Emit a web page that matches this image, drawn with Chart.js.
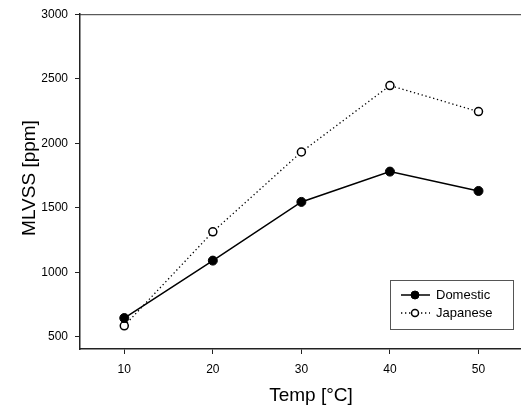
<!DOCTYPE html>
<html>
<head>
<meta charset="utf-8">
<title>MLVSS vs Temp</title>
<script src="https://cdn.jsdelivr.net/npm/chart.js@4"></script>
<style>
    body { margin: 0; background: #fff; }
    #wrap { width: 521px; height: 410px; position: relative; }
</style>
</head>
<body>
<div id="wrap"><canvas id="mlvssChart"></canvas></div>
<script>
// data
const temps = [10, 20, 30, 40, 50];
const domestic = [645, 1090, 1545, 1780, 1630];
const japanese = [585, 1313, 1932, 2447, 2245];
const xTicks = [10, 20, 30, 40, 50];
const yTicks = [500, 1000, 1500, 2000, 2500, 3000];

const FONT = "'Liberation Sans', Arial, Helvetica, sans-serif";

// axis titles, top frame line and the boxed legend
const extras = {
    id: 'extras',
    afterDraw(chart) {
        const ctx = chart.ctx;
        const a = chart.chartArea;
        ctx.save();

        // top frame line
        ctx.strokeStyle = '#333';
        ctx.lineWidth = 1;
        ctx.beginPath();
        ctx.moveTo(a.left, a.top + 0.5);
        ctx.lineTo(a.right, a.top + 0.5);
        ctx.stroke();

        // titles
        ctx.fillStyle = '#000';
        ctx.font = '19px ' + FONT;
        ctx.textAlign = 'center';
        ctx.textBaseline = 'middle';
        ctx.fillText('Temp [°C]', 311, 396);
        ctx.translate(30, 178);
        ctx.rotate(-Math.PI / 2);
        ctx.fillText('MLVSS [ppm]', 0, 0);
        ctx.restore();

        // legend
        ctx.save();
        ctx.strokeStyle = '#555';
        ctx.lineWidth = 1;
        ctx.strokeRect(390.5, 280.5, 123, 49);
        const rows = [
            { label: 'Domestic', y: 295, ds: chart.data.datasets[0] },
            { label: 'Japanese', y: 313, ds: chart.data.datasets[1] }
        ];
        rows.forEach(function(r) {
            ctx.strokeStyle = '#000';
            ctx.lineWidth = r.ds.borderWidth;
            ctx.setLineDash(r.ds.borderDash || []);
            ctx.beginPath();
            ctx.moveTo(401, r.y);
            ctx.lineTo(430, r.y);
            ctx.stroke();
            ctx.setLineDash([]);
            ctx.beginPath();
            ctx.arc(415, r.y, r.ds.pointRadius - 0.5, 0, Math.PI * 2);
            ctx.fillStyle = r.ds.pointBackgroundColor;
            ctx.fill();
            ctx.lineWidth = r.ds.pointBorderWidth;
            ctx.stroke();
            ctx.fillStyle = '#000';
            ctx.font = '13px ' + FONT;
            ctx.textAlign = 'left';
            ctx.textBaseline = 'middle';
            ctx.fillText(r.label, 436, r.y + 0.5);
        });
        ctx.restore();
    }
};

const ctx = document.getElementById('mlvssChart').getContext('2d');
const mlvssChart = new Chart(ctx, {
    type: 'line',
    data: {
        datasets: [{
            label: 'Domestic',
            data: temps.map((t, i) => ({ x: t, y: domestic[i] })),
            borderColor: '#000',
            borderWidth: 1.5,
            pointRadius: 4.5,
            pointBackgroundColor: '#000',
            pointBorderColor: '#000',
            pointBorderWidth: 1,
            tension: 0
        }, {
            label: 'Japanese',
            data: temps.map((t, i) => ({ x: t, y: japanese[i] })),
            borderColor: '#000',
            borderWidth: 1.3,
            borderDash: [1.3, 2.7],
            pointRadius: 4,
            pointBackgroundColor: '#fff',
            pointBorderColor: '#000',
            pointBorderWidth: 1.5,
            tension: 0
        }]
    },
    options: {
        responsive: true,
        maintainAspectRatio: false,
        animation: false,
        layout: { autoPadding: false, padding: { top: 12, right: 0, left: 0, bottom: 0 } },
        plugins: {
            legend: { display: false },
            tooltip: { enabled: false }
        },
        scales: {
            x: {
                type: 'linear',
                min: 5,
                max: 54.8,
                afterBuildTicks: s => { s.ticks = xTicks.map(v => ({ value: v })); },
                afterFit: s => { s.height = 61; s.paddingLeft = 0; s.paddingRight = 0; },
                grid: { drawOnChartArea: false, drawTicks: true, tickLength: 5, color: '#222', lineWidth: 1 },
                border: { display: true, color: '#222', width: 1.5 },
                ticks: { color: '#000', padding: 8, font: { family: FONT, size: 12 }, maxRotation: 0,
                         callback: v => String(v) }
            },
            y: {
                min: 405,
                max: 3000,
                afterBuildTicks: s => { s.ticks = yTicks.map(v => ({ value: v })); },
                afterFit: s => { s.width = 80; },
                grid: { drawOnChartArea: false, drawTicks: true, tickLength: 5, color: '#222', lineWidth: 1 },
                border: { display: true, color: '#222', width: 1.5 },
                ticks: { color: '#000', padding: 7, font: { family: FONT, size: 12 },
                         callback: v => String(v) }
            }
        }
    },
    plugins: [extras]
});
</script>
</body>
</html>
